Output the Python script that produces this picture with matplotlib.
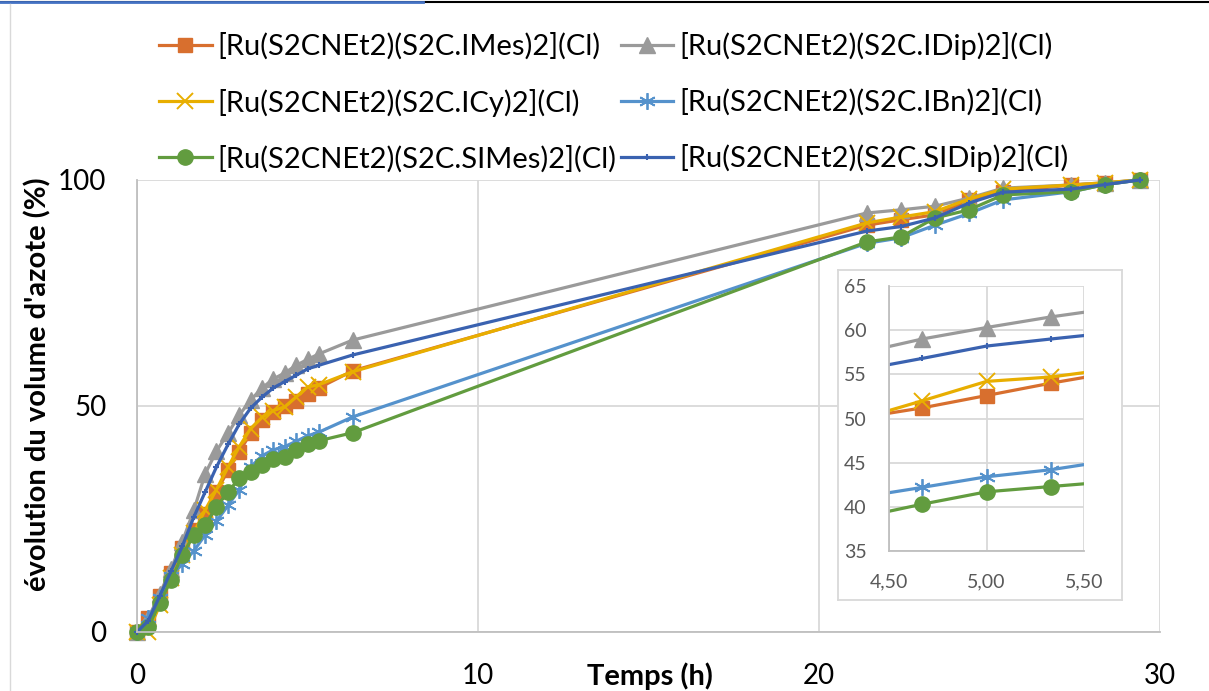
import matplotlib
matplotlib.use("Agg")
import matplotlib.pyplot as plt
from matplotlib.lines import Line2D

plt.rcParams["font.family"] = ["Lato", "DejaVu Sans"]

# time points (h)
temps = [0, 0.33, 0.67, 1.0, 1.33, 1.67, 2.0, 2.33, 2.67, 3.0, 3.33, 3.67, 4.0,
         4.33, 4.67, 5.0, 5.33, 6.33,
         21.4, 22.4, 23.4, 24.4, 25.4, 27.4, 28.4, 29.4]

# nitrogen volume evolution (%) for each complex
imes = [0, 3, 8, 13, 18.5, 22.5, 26, 31, 35.8, 39.8, 44, 46.9, 48.7,
        50.0, 51.2, 52.6, 54.0, 57.8,
        90, 91.2, 92.3, 95.5, 97.4, 98.9, 99.3, 100]
idip = [0, 3, 8.5, 14, 20, 27, 35, 40, 44, 48, 51.3, 54, 56,
        57.3, 59.0, 60.3, 61.5, 64.6,
        92.7, 93.4, 94.2, 96, 98.2, 98.9, 99.4, 100]
icy = [0, 0, 6, 12, 17, 22, 27, 31.5, 36.5, 41, 45, 47.5, 49,
       49.8, 52.0, 54.2, 54.7, 57.6,
       90.5, 91.8, 93, 95.8, 98, 98.9, 99.4, 100]
ibn = [0, 3, 7.5, 12.5, 15, 18, 21.5, 24.5, 28, 31.5, 36.5, 39, 40.3,
       41.0, 42.2, 43.4, 44.2, 47.6,
       86, 87.2, 90, 92.6, 95.6, 97.4, 99, 100]
simes = [0, 1, 6.5, 11.5, 17, 21.5, 23.7, 27.7, 31, 34, 35.4, 37, 38.3,
         38.7, 40.3, 41.7, 42.3, 44.1,
         86.3, 87.4, 91.6, 93.4, 96.7, 97.4, 99, 100]
sidip = [0, 2.5, 8, 13.5, 19, 25.5, 31, 36.5, 41.5, 46, 49.5, 52, 54,
         55.4, 56.8, 58.2, 59.0, 61.3,
         88.7, 89.7, 91.6, 94.9, 97.3, 98, 99, 100]

labels = ["[Ru(S2CNEt2)(S2C.IMes)2](Cl)", "[Ru(S2CNEt2)(S2C.IDip)2](Cl)",
          "[Ru(S2CNEt2)(S2C.ICy)2](Cl)", "[Ru(S2CNEt2)(S2C.IBn)2](Cl)",
          "[Ru(S2CNEt2)(S2C.SIMes)2](Cl)", "[Ru(S2CNEt2)(S2C.SIDip)2](Cl)"]
series = [imes, idip, icy, ibn, simes, sidip]

colors = ["#D86F2E", "#9A9A9A", "#E8AE00", "#5592CC", "#629C3F", "#3A62B0"]
markers = ["s", "^", "x", (6, 2, 0), "o", "+"]
msizes = [10, 11, 11, 12, 11, 4]
mews = [1, 1, 1.4, 1.3, 1, 1.5]

fig = plt.figure(figsize=(12.09, 6.91), dpi=100)

ax = fig.add_axes([137 / 1209, 1 - 632 / 691, 1023 / 1209, 452 / 691])
handles = []
for s, lab, c, m, ms, mew in zip(series, labels, colors, markers, msizes, mews):
    h, = ax.plot(temps, s, color=c, lw=2.3, marker=m, ms=ms, mew=mew,
                 mec=c, mfc=c, label=lab, clip_on=False)
    handles.append(h)

ax.set_xlim(0, 30)
ax.set_ylim(0, 100)
ax.set_xticks([0, 10, 20, 30])
ax.set_yticks([0, 50, 100])
ax.grid(True, color="#D9D9D9", lw=1.3)
ax.set_axisbelow(True)
for side in ["top", "right"]:
    ax.spines[side].set_visible(False)
for side in ["left", "bottom"]:
    ax.spines[side].set_color("#BFBFBF")
    ax.spines[side].set_linewidth(1.3)
ax.tick_params(length=0, labelsize=20, pad=22)

fig.text(650 / 1209, 1 - 676 / 691, "Temps (h)", fontsize=21, fontweight="bold",
         ha="center", va="center")
fig.text(38 / 1209, 1 - 384 / 691, "évolution du volume d'azote (%)", fontsize=21,
         fontweight="bold", rotation=90, ha="center", va="center")

# legend, two columns
order = [0, 2, 4, 1, 3, 5]
fig.legend([handles[i] for i in order], [labels[i] for i in order], ncol=2,
           loc="upper left", bbox_to_anchor=(159 / 1209, 1 - 32 / 691),
           frameon=False, fontsize=21, handlelength=1.8, handletextpad=0.2,
           labelspacing=0.98, columnspacing=0.15, borderaxespad=0, borderpad=0)

# zoom box
box = fig.add_axes([838 / 1209, 1 - 600 / 691, 284 / 1209, 330 / 691])
box.set_xticks([])
box.set_yticks([])
for sp in box.spines.values():
    sp.set_color("#D9D9D9")
    sp.set_linewidth(1.3)

ins = fig.add_axes([889 / 1209, 1 - 551 / 691, 195 / 1209, 265 / 691])
for s, c, m, ms, mew in zip(series, colors, markers, msizes, mews):
    ins.plot(temps, s, color=c, lw=2.3, marker=m, ms=ms, mew=mew, mec=c, mfc=c)
ins.set_xlim(4.5, 5.5)
ins.set_ylim(35, 65)
ins.set_xticks([4.5, 5.0, 5.5])
ins.set_xticklabels(["4,50", "5,00", "5,50"])
ins.set_yticks([35, 40, 45, 50, 55, 60, 65])
ins.grid(True, color="#D9D9D9", lw=1.3)
ins.set_axisbelow(True)
for side in ["top", "right"]:
    ins.spines[side].set_visible(False)
for side in ["left", "bottom"]:
    ins.spines[side].set_color("#BFBFBF")
    ins.spines[side].set_linewidth(1.3)
ins.tick_params(length=0, labelsize=14, labelcolor="#595959", pad=16)

# sheet borders around the chart
fig.add_artist(Line2D([0, 1], [1 - 1.5 / 691] * 2, color="black", lw=1.5))
fig.add_artist(Line2D([0, 423 / 1209], [1 - 1.5 / 691] * 2, color="#4472C4", lw=2))
fig.add_artist(Line2D([10 / 1209] * 2, [0, 1 - 4 / 691], color="#D9D9D9", lw=1))

plt.savefig("out.png", dpi=100)
